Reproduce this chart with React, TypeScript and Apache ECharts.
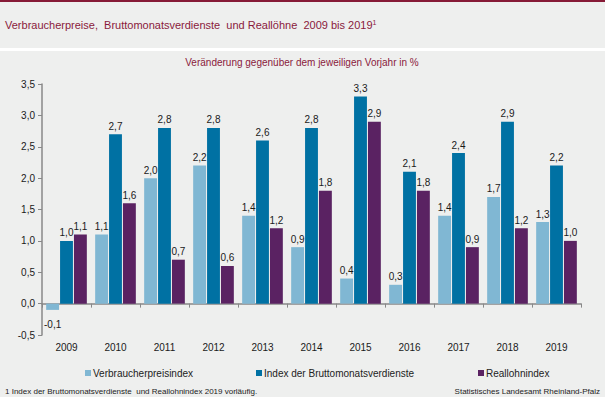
import React, { useEffect, useRef } from "react";
import * as echarts from "echarts";

const years = ["2009", "2010", "2011", "2012", "2013", "2014", "2015", "2016", "2017", "2018", "2019"];
const vpi = [-0.1, 1.1, 2.0, 2.2, 1.4, 0.9, 0.4, 0.3, 1.4, 1.7, 1.3];
const brutto = [1.0, 2.7, 2.8, 2.8, 2.6, 2.8, 3.3, 2.1, 2.4, 2.9, 2.2];
const real = [1.1, 1.6, 0.7, 0.6, 1.2, 1.8, 2.9, 1.8, 0.9, 1.2, 1.0];
const seriesNames = ["Verbraucherpreisindex", "Index der Bruttomonatsverdienste", "Reallohnindex"];
const colors = ["#80b7d3", "#0071a3", "#5a2262"];

const fmt = (v: number) => v.toFixed(1).replace(".", ",");
const FONT = "Liberation Sans, Arial, sans-serif";
const MAROON = "#8a1a3c";
const BG = "#eeefee";

export default function App() {
  const ref = useRef<HTMLDivElement>(null);
  useEffect(() => {
    const chart = echarts.init(ref.current!, null, { renderer: "svg" });
    const mk = (name: string, data: any[], color: string) => ({
      name,
      type: "bar",
      data,
      barGap: "8%",
      barCategoryGap: "17%",
      itemStyle: { color },
      label: {
        show: true,
        position: "top",
        distance: 3,
        fontFamily: FONT,
        fontSize: 10,
        color: "#1a1a1a",
        formatter: (p: any) => fmt(p.value),
      },
    });
    const vpiData = vpi.map((v) => (v < 0 ? { value: v, label: { position: "bottom", distance: 10 } } : v));
    const s = [mk(seriesNames[0], vpiData, colors[0]), mk(seriesNames[1], brutto, colors[1]), mk(seriesNames[2], real, colors[2])];
    const legendBase = {
      top: 363,
      itemWidth: 6,
      itemHeight: 6,
      icon: "rect",
      itemGap: 0,
      textStyle: { fontFamily: FONT, fontSize: 10, color: "#222", padding: [0, 0, 0, -3] },
      selectedMode: false,
    };
    chart.setOption({
      animation: false,
      backgroundColor: "#ffffff",
      color: colors,
      graphic: [
        { type: "rect", shape: { x: 0, y: 0, width: 605, height: 2 }, style: { fill: "#861a36" }, z: -10 },
        { type: "rect", shape: { x: 0, y: 2, width: 605, height: 46 }, style: { fill: BG }, z: -10 },
        { type: "rect", shape: { x: 0, y: 51, width: 605, height: 346 }, style: { fill: BG }, z: -10 },
        {
          type: "text",
          x: 5,
          y: 25,
          style: {
            text: "{a|Verbraucherpreise,  Bruttomonatsverdienste  und Reallöhne  2009 bis 2019}{s|1}",
            verticalAlign: "middle",
            rich: {
              a: { fontFamily: FONT, fontSize: 11, fill: MAROON },
              s: { fontFamily: FONT, fontSize: 7, fill: MAROON, verticalAlign: "top", padding: [0, 0, 6, 0] },
            },
          },
        },
        {
          type: "text",
          x: 302,
          y: 62,
          style: {
            text: "Veränderung gegenüber dem jeweiligen Vorjahr in %",
            fontFamily: FONT,
            fontSize: 10,
            fill: MAROON,
            align: "center",
            verticalAlign: "middle",
          },
        },
        {
          type: "text",
          x: 5,
          y: 391,
          style: {
            text: "1 Index der Bruttomonatsverdienste  und Reallohnindex 2019 vorläufig.",
            fontFamily: FONT,
            fontSize: 8,
            fill: "#222",
            verticalAlign: "middle",
          },
        },
        {
          type: "text",
          x: 600,
          y: 391,
          style: {
            text: "Statistisches Landesamt Rheinland-Pfalz",
            fontFamily: FONT,
            fontSize: 8,
            fill: "#222",
            align: "right",
            verticalAlign: "middle",
          },
        },
      ],
      legend: [
        { ...legendBase, left: 80, data: [seriesNames[0]] },
        { ...legendBase, left: 251, data: [seriesNames[1]] },
        { ...legendBase, left: 473, data: [seriesNames[2]] },
      ],
      grid: { left: 42, right: 24, top: 84, bottom: 62 },
      xAxis: {
        type: "category",
        data: years,
        axisLine: { onZero: true, lineStyle: { color: "#888", width: 1.5 } },
        axisTick: { show: true, length: 4, inside: false, lineStyle: { color: "#888" } },
        axisLabel: { margin: 7, fontFamily: FONT, fontSize: 10, color: "#1a1a1a" },
      },
      yAxis: {
        type: "value",
        min: -0.5,
        max: 3.5,
        interval: 0.5,
        splitLine: { show: false },
        axisLine: { show: true, lineStyle: { color: "#888", width: 1.5 } },
        axisTick: { show: true, length: 4, lineStyle: { color: "#888" } },
        axisLabel: { margin: 7, fontFamily: FONT, fontSize: 10, color: "#1a1a1a", formatter: (v: number) => fmt(v) },
      },
      series: s,
    });
    return () => chart.dispose();
  }, []);
  return <div ref={ref} style={{ position: "fixed", left: 0, top: 0, width: 605, height: 397 }} />;
}
